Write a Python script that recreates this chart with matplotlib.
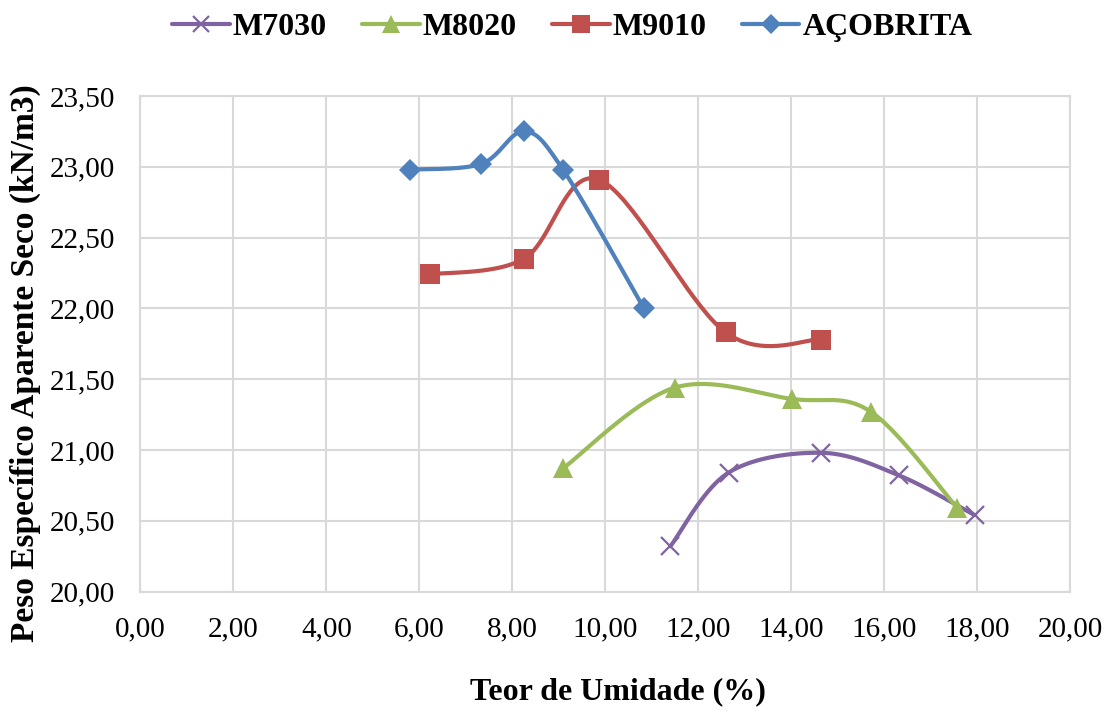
import numpy as np
import matplotlib
matplotlib.use("Agg")
import matplotlib.pyplot as plt
from matplotlib.ticker import FuncFormatter, MultipleLocator

# Compaction test results: moisture content (%) vs dry unit weight (kN/m3)
m7030_x = [11.40, 12.65, 14.64, 16.32, 17.94]
m7030_y = [20.32, 20.84, 20.98, 20.82, 20.54]

m8020_x = [9.09, 11.49, 14.02, 15.71, 17.57]
m8020_y = [20.87, 21.44, 21.36, 21.27, 20.59]

m9010_x = [6.24, 8.25, 9.86, 12.59, 14.63]
m9010_y = [22.24, 22.35, 22.91, 21.83, 21.78]

acobrita_x = [5.80, 7.33, 8.25, 9.09, 10.83]
acobrita_y = [22.98, 23.02, 23.25, 22.98, 22.00]

series_names = ["M7030", "M8020", "M9010", "AÇOBRITA"]
series_colors = ["#8064A2", "#9BBB59", "#C0504D", "#4F81BD"]
series_markers = ["x", "^", "s", "D"]
series_msize = [13, 14, 14, 11]


def smooth_curve(x, y, n=40):
    """Cardinal-spline style smoothing through every point (cubic Bezier segments)."""
    p = np.column_stack([x, y]).astype(float)
    pts = []
    for i in range(len(p) - 1):
        p0 = p[i - 1] if i > 0 else p[i]
        p1 = p[i]
        p2 = p[i + 1]
        p3 = p[i + 2] if i + 2 < len(p) else p[i + 1]
        c1 = p1 + (p2 - p0) / 6.0
        c2 = p2 - (p3 - p1) / 6.0
        t = np.linspace(0, 1, n)[:, None]
        seg = ((1 - t) ** 3) * p1 + 3 * ((1 - t) ** 2) * t * c1 + 3 * (1 - t) * t ** 2 * c2 + t ** 3 * p2
        if i > 0:
            seg = seg[1:]
        pts.append(seg)
    pts = np.vstack(pts)
    return pts[:, 0], pts[:, 1]


plt.rcParams["font.family"] = ["Liberation Serif", "DejaVu Serif"]

fig = plt.figure(figsize=(11.05, 7.11), dpi=100)
ax = fig.add_axes([0.127, 0.168, 0.8416, 0.697])

data = [(m7030_x, m7030_y), (m8020_x, m8020_y), (m9010_x, m9010_y), (acobrita_x, acobrita_y)]
handles = []
for (xs, ys), name, col, mk, ms in zip(data, series_names, series_colors, series_markers, series_msize):
    sx, sy = smooth_curve(xs, ys)
    ax.plot(sx, sy, color=col, lw=3, solid_capstyle="round", zorder=3)
    mew = 1.6 if mk == "x" else 0
    ax.plot(xs, ys, linestyle="none", marker=mk, color=col, markersize=ms,
            markeredgewidth=mew, zorder=4)
    h, = ax.plot([], [], color=col, lw=3, marker=mk, markersize=ms * 0.9,
                 markeredgewidth=mew, solid_capstyle="round")
    handles.append(h)

ax.set_xlim(0, 20)
ax.set_ylim(20, 23.5)
ax.xaxis.set_major_locator(MultipleLocator(2))
ax.yaxis.set_major_locator(MultipleLocator(0.5))
fmt = FuncFormatter(lambda v, pos: f"{v:.2f}".replace(".", ","))
ax.xaxis.set_major_formatter(fmt)
ax.yaxis.set_major_formatter(fmt)
ax.tick_params(axis="both", length=0, labelsize=21, pad=18)
ax.grid(True, color="#D9D9D9", lw=1.5, zorder=0)
for s in ax.spines.values():
    s.set_color("#D9D9D9")
    s.set_linewidth(1.5)

ax.set_xlabel("Teor de Umidade (%)", fontsize=23, fontweight="bold")
ax.xaxis.set_label_coords(0.514, -0.203)
ax.xaxis.label.set_verticalalignment("center")
ax.set_ylabel("Peso Específico Aparente Seco (kN/m3)", fontsize=24, fontweight="bold")
ax.yaxis.set_label_coords(-0.124, 0.461)
ax.yaxis.label.set_verticalalignment("center")

fig.legend(handles, series_names, loc="center", bbox_to_anchor=(0.518, 0.962), ncol=4,
           frameon=False, prop={"size": 23, "weight": "bold"},
           handlelength=1.8, handletextpad=0.1, columnspacing=1.1)

fig.savefig("out.png", dpi=100)
